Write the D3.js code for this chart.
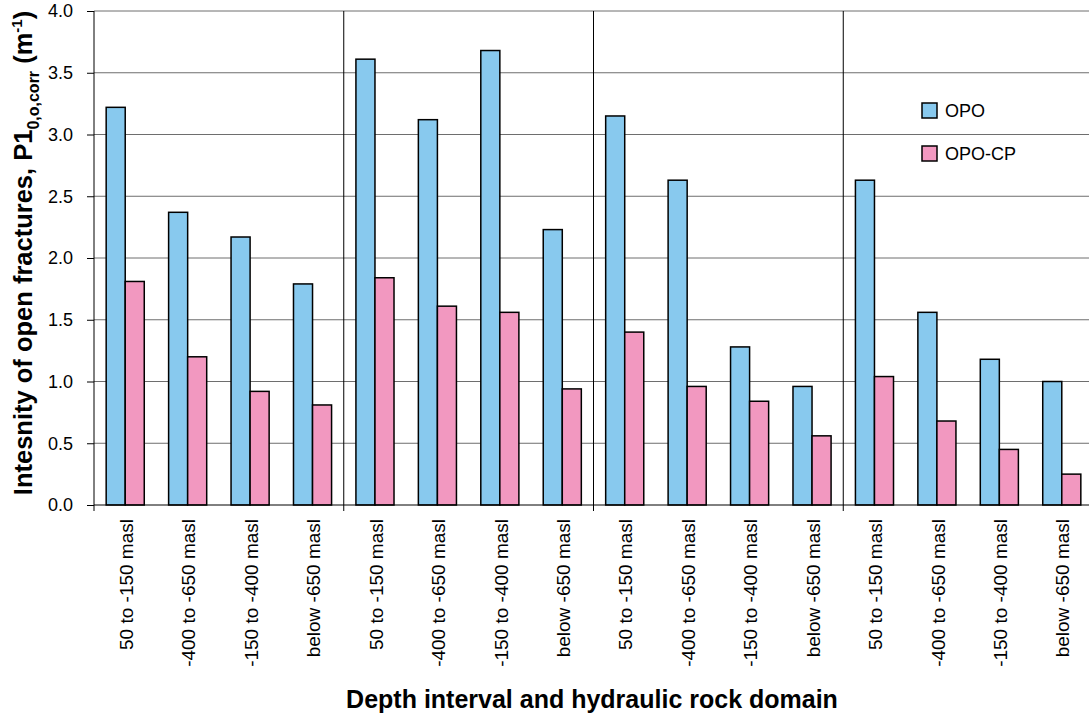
<!DOCTYPE html>
<html lang="en">
<head>
    <meta charset="UTF-8">
    <script src="https://d3js.org/d3.v7.min.js"></script>
    <style>
        body { margin: 0; background: #fff; font-family: Arial, "Liberation Sans", sans-serif; }
        svg { display: block; }
    </style>
</head>
<body>
<div id="chart"></div>
<script>
// depth intervals, repeated for each of the four rock domains
var depthLabels = ["50 to -150 masl", "-400 to -650 masl", "-150 to -400 masl", "below -650 masl"];
var domainCount = 4;
var seriesNames = ["OPO", "OPO-CP"];
var opo   = [3.22, 2.37, 2.17, 1.79, 3.61, 3.12, 3.68, 2.23, 3.15, 2.63, 1.28, 0.96, 2.63, 1.56, 1.18, 1.00];
var opoCp = [1.81, 1.20, 0.92, 0.81, 1.84, 1.61, 1.56, 0.94, 1.40, 0.96, 0.84, 0.56, 1.04, 0.68, 0.45, 0.25];
var yTicks = [0, 0.5, 1.0, 1.5, 2.0, 2.5, 3.0, 3.5, 4.0];

var colors = ["#88c9ee", "#f298c0"];

var W = 1089, H = 717;
var margin = { top: 11, left: 94, bottom: 212 },
    width = 999,
    height = H - margin.top - margin.bottom;

var svg = d3.select("#chart").append("svg")
    .attr("width", W)
    .attr("height", H);

var g = svg.append("g")
    .attr("transform", `translate(${margin.left},${margin.top})`);

// one slot per bar pair
var cats = d3.range(domainCount * depthLabels.length);
var x = d3.scaleBand().domain(cats).range([0, width]).paddingInner(0.39).paddingOuter(0.195);
var y = d3.scaleLinear().domain([0, 4]).range([height, 0]);

// horizontal gridlines
g.append("g")
    .selectAll("line")
    .data(yTicks.slice(1))
    .enter().append("line")
        .attr("x1", 0)
        .attr("x2", width)
        .attr("y1", function(d) { return y(d); })
        .attr("y2", function(d) { return y(d); })
        .attr("stroke", "#6e6e6e")
        .attr("stroke-width", 1);

// y axis
var yAxis = g.append("g")
    .call(d3.axisLeft(y).tickValues(yTicks).tickSize(7).tickPadding(14).tickFormat(d3.format(".1f")));
yAxis.select(".domain").remove();
yAxis.selectAll(".tick line").attr("stroke", "#000");
yAxis.selectAll("text")
    .style("font-family", "Arial, 'Liberation Sans', sans-serif")
    .style("font-size", "18px")
    .attr("fill", "#000");
g.append("line")
    .attr("x1", 0).attr("x2", 0)
    .attr("y1", 0).attr("y2", height)
    .attr("stroke", "#000");

// domain separators (and their ticks below the axis)
var groupW = width / domainCount;
g.append("g")
    .selectAll("line")
    .data(d3.range(0, domainCount + 1))
    .enter().append("line")
        .attr("x1", function(d) { return d * groupW; })
        .attr("x2", function(d) { return d * groupW; })
        .attr("y1", function(d) { return d === 0 ? height : 0; })
        .attr("y2", height + 6)
        .attr("stroke", "#000")
        .attr("stroke-width", 1);

// bars
var half = x.bandwidth() / 2;
[opo, opoCp].forEach(function(vals, s) {
    g.append("g")
        .selectAll("rect")
        .data(vals)
        .enter().append("rect")
            .attr("x", function(d, i) { return x(i) + s * half; })
            .attr("width", half)
            .attr("y", function(d) { return y(d); })
            .attr("height", function(d) { return height - y(d); })
            .attr("fill", colors[s])
            .attr("stroke", "#000")
            .attr("stroke-width", 1.5);
});

// x axis line
g.append("line")
    .attr("x1", 0).attr("x2", width)
    .attr("y1", height).attr("y2", height)
    .attr("stroke", "#000");

// category labels
g.append("g")
    .selectAll("text")
    .data(cats)
    .enter().append("text")
        .attr("transform", function(d) {
            return `translate(${x(d) + x.bandwidth() / 2 + 1},${height + 14}) rotate(-90)`;
        })
        .attr("dy", "0.35em")
        .attr("text-anchor", "end")
        .style("font-size", "19px")
        .text(function(d) { return depthLabels[d % depthLabels.length]; });

// legend
var legend = svg.append("g").attr("transform", "translate(922,103)");
seriesNames.forEach(function(name, i) {
    var row = legend.append("g").attr("transform", `translate(0,${i * 43})`);
    row.append("rect")
        .attr("width", 15).attr("height", 15)
        .attr("fill", colors[i])
        .attr("stroke", "#000")
        .attr("stroke-width", 1.5);
    row.append("text")
        .attr("x", 23).attr("y", 8)
        .attr("dy", "0.35em")
        .style("font-size", "18px")
        .text(name);
});

// axis titles
svg.append("text")
    .attr("x", 592)
    .attr("y", 708)
    .attr("text-anchor", "middle")
    .style("font-size", "25px")
    .style("font-weight", "bold")
    .text("Depth interval and hydraulic rock domain");

var yTitle = svg.append("text")
    .attr("transform", "translate(32,253) rotate(-90)")
    .attr("text-anchor", "middle")
    .style("font-size", "25.5px")
    .style("font-weight", "bold");
yTitle.append("tspan").text("Intesnity of open fractures, P1");
yTitle.append("tspan").attr("dy", 7).style("font-size", "16px").text("0,o,corr");
yTitle.append("tspan").attr("dy", -7).text(" (m");
yTitle.append("tspan").attr("dy", -10).style("font-size", "15px").text("-1");
yTitle.append("tspan").attr("dy", 10).text(")");
</script>
</body>
</html>
